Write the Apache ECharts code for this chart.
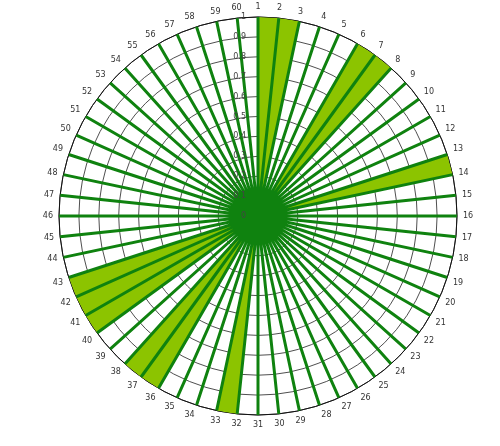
<!DOCTYPE html>
<html>
<head>
<meta charset="utf-8">
<script src="https://cdn.jsdelivr.net/npm/echarts@6/dist/echarts.min.js"></script>
<style>
  html, body { margin: 0; padding: 0; background: #fff; }
  #chart { width: 500px; height: 446px; }
</style>
</head>
<body>
<div id="chart"></div>
<script>
// angle categories, clockwise from the top
var categories = ['1','2','3','4','5','6','7','8','9','10',
    '11','12','13','14','15','16','17','18','19','20',
    '21','22','23','24','25','26','27','28','29','30',
    '31','32','33','34','35','36','37','38','39','40',
    '41','42','43','44','45','46','47','48','49','50',
    '51','52','53','54','55','56','57','58','59','60'];
// every spoke reaches the outer ring
var spokeValues = [1,1,1,1,1,1,1,1,1,1,
    1,1,1,1,1,1,1,1,1,1,
    1,1,1,1,1,1,1,1,1,1,
    1,1,1,1,1,1,1,1,1,1,
    1,1,1,1,1,1,1,1,1,1,
    1,1,1,1,1,1,1,1,1,1];
// light green wedges (category runs that are filled)
var fillRuns = [
    ['1','2','3'],
    ['6','7','8'],
    ['13','14'],
    ['32','33'],
    ['36','37','38'],
    ['40','41','42','43']
];
var fillValue = 1;
var radiusTicks = [0, 0.1, 0.2, 0.3, 0.4, 0.5, 0.6, 0.7, 0.8, 0.9, 1];

// area data: value inside a run, gap elsewhere
var fillData = categories.map(function (c) {
    for (var i = 0; i < fillRuns.length; i++) {
        if (fillRuns[i].indexOf(c) >= 0) return fillValue;
    }
    return null;
});

// spokes: out to the ring and back to the centre for each category
var spokeData = [];
for (var i = 0; i < categories.length; i++) {
    spokeData.push([0, categories[i]]);
    spokeData.push([spokeValues[i], categories[i]]);
}

var center = [258, 216];
var radius = 199;
// bands of 6 degrees; start half a band early so "1" sits straight up
var bandAngle = 360 / categories.length;

var myChart = echarts.init(document.getElementById('chart'));
var option = {
    animation: false,
    backgroundColor: '#fff',
    // polar 0 holds grid and series, polar 1 only the radius labels on top
    polar: [
        { center: center, radius: radius },
        { center: center, radius: radius }
    ],
    angleAxis: [
        {
            polarIndex: 0,
            type: 'category',
            data: categories,
            boundaryGap: true,
            startAngle: 90 + bandAngle / 2,
            clockwise: true,
            axisLine: { show: true, lineStyle: { color: '#111', width: 1 } },
            axisTick: { show: false },
            splitLine: { show: false },
            axisLabel: {
                interval: 0,
                fontSize: 8,
                color: '#333',
                fontFamily: 'DejaVu Sans',
                margin: 6
            }
        },
        {
            polarIndex: 1,
            type: 'category',
            data: categories,
            startAngle: 90,
            show: false
        }
    ],
    radiusAxis: [
        {
            polarIndex: 0,
            min: radiusTicks[0],
            max: radiusTicks[radiusTicks.length - 1],
            interval: 0.1,
            axisLine: { show: false },
            axisTick: { show: false },
            axisLabel: { show: false },
            splitLine: { show: true, lineStyle: { color: '#222', width: 0.8 } }
        },
        {
            polarIndex: 1,
            min: radiusTicks[0],
            max: radiusTicks[radiusTicks.length - 1],
            interval: 0.1,
            axisLine: { show: false },
            axisTick: { show: false },
            splitLine: { show: false },
            axisLabel: {
                fontSize: 8,
                color: '#444',
                fontFamily: 'DejaVu Sans',
                margin: 12,
                formatter: function (v) { return String(Math.round(v * 10) / 10); }
            },
            z: 10
        }
    ],
    series: [
        {
            name: 'fill',
            type: 'line',
            coordinateSystem: 'polar',
            polarIndex: 0,
            data: fillData,
            symbol: 'none',
            connectNulls: false,
            lineStyle: { width: 0 },
            areaStyle: { color: '#8cc400', opacity: 1 },
            silent: true,
            z: 2
        },
        {
            name: 'spokes',
            type: 'line',
            coordinateSystem: 'polar',
            polarIndex: 0,
            data: spokeData,
            symbol: 'none',
            lineStyle: { color: '#0f820f', width: 3, cap: 'butt', join: 'bevel' },
            silent: true,
            z: 3
        }
    ]
};
myChart.setOption(option);
</script>
</body>
</html>
